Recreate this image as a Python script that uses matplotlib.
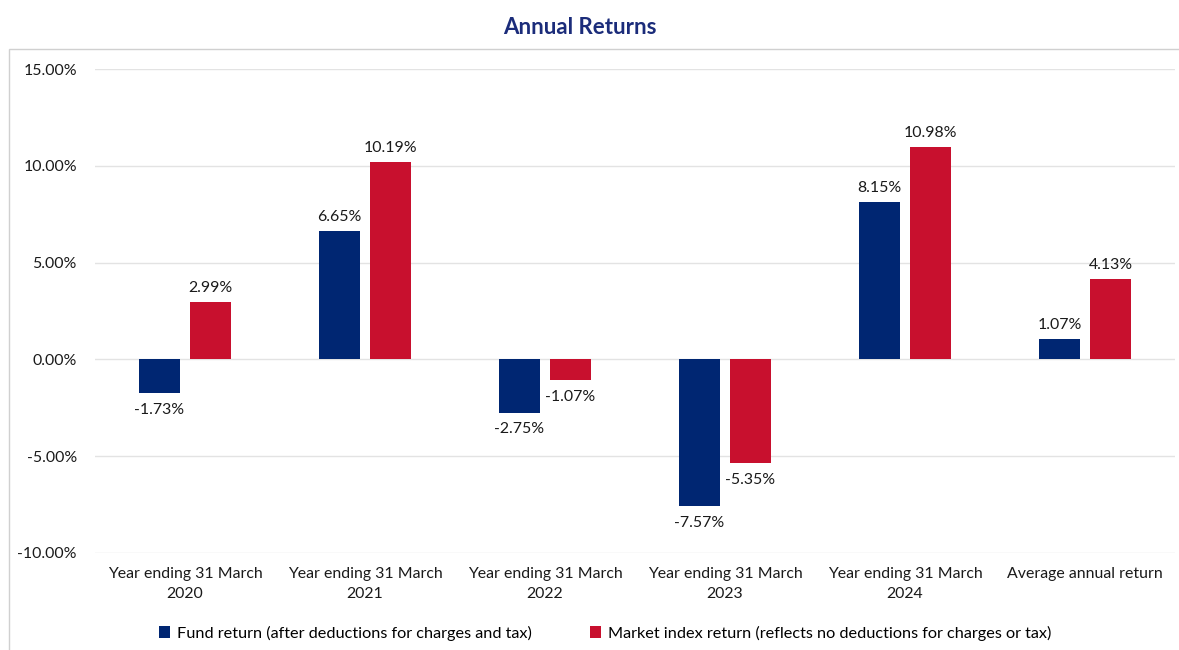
import matplotlib.pyplot as plt
from matplotlib.patches import Rectangle
import numpy as np

categories = ["Year ending 31 March\n2020", "Year ending 31 March\n2021",
              "Year ending 31 March\n2022", "Year ending 31 March\n2023",
              "Year ending 31 March\n2024", "Average annual return"]
fund = [-1.73, 6.65, -2.75, -7.57, 8.15, 1.07]
market = [2.99, 10.19, -1.07, -5.35, 10.98, 4.13]
fund_label = "Fund return (after deductions for charges and tax)"
market_label = "Market index return (reflects no deductions for charges or tax)"
yticks = [-10, -5, 0, 5, 10, 15]

navy = "#002672"
red = "#C8102E"

plt.rcParams['font.family'] = ['Lato', 'DejaVu Sans']

fig = plt.figure(figsize=(11.79, 6.5), dpi=100)
ax = fig.add_axes([95/1179, 97/650, 1080/1179, 484/650])

x = np.arange(len(categories))
w = 0.228
off = 0.142
b1 = ax.bar(x - off, fund, w, color=navy, label=fund_label, zorder=3)
b2 = ax.bar(x + off, market, w, color=red, label=market_label, zorder=3)

# value labels: above positive bars, below negative ones
for bars, vals in ((b1, fund), (b2, market)):
    for rect, v in zip(bars, vals):
        cx = rect.get_x() + rect.get_width() / 2
        if v >= 0:
            ax.annotate(f"{v:.2f}%", (cx, v), xytext=(0, 5), textcoords="offset points",
                        ha="center", va="bottom", fontsize=11.4, color="#1a1a1a")
        else:
            ax.annotate(f"{v:.2f}%", (cx, v), xytext=(0, -7), textcoords="offset points",
                        ha="center", va="top", fontsize=11.4, color="#1a1a1a")

ax.set_xlim(-0.5, len(categories) - 0.5)
ax.set_ylim(-10, 15)
ax.set_yticks(yticks)
ax.set_yticklabels([f"{t:.2f}%" for t in yticks])
ax.set_xticks(x)
ax.set_xticklabels(categories, linespacing=1.6)
ax.tick_params(axis="both", length=0, labelsize=11.4, colors="#1a1a1a")
ax.tick_params(axis="y", pad=13)
ax.tick_params(axis="x", pad=10)
ax.grid(axis="y", color="#e3e3e3", linewidth=1, zorder=0)
for s in ax.spines.values():
    s.set_visible(False)

fig.text(580/1179, 1 - 27/650, "Annual Returns", ha="center", va="center",
         fontsize=16, fontweight="bold", color="#1B2C7A")

fig.legend(loc="center", bbox_to_anchor=(605/1179, 1 - 633/650), ncol=2, frameon=False,
           fontsize=11.7, handlelength=0.7, handleheight=0.7, handletextpad=0.4,
           columnspacing=3.6)

fig.patches.append(Rectangle((9/1179, -0.01), 1.1, 1 - 49/650 + 0.01, transform=fig.transFigure,
                             fill=False, edgecolor="#d0d0d0", linewidth=1))

fig.savefig("out.png", dpi=100)
